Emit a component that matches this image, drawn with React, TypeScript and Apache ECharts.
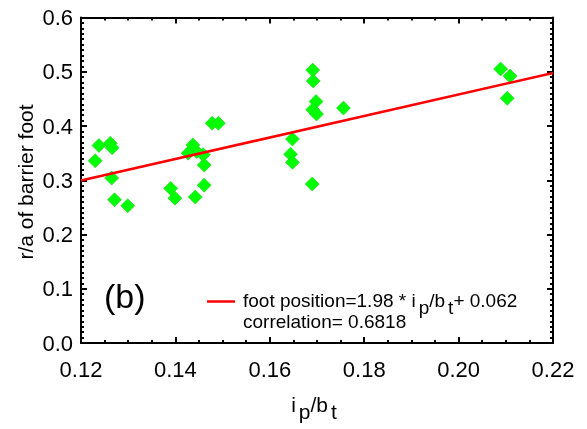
import { useEffect, useRef } from 'react';
import * as echarts from 'echarts';

// i_p / b_t values of the measured points
const ipOverBt = [
  0.1238, 0.1262, 0.1266, 0.1230, 0.1265, 0.1271, 0.1299,
  0.1390, 0.1399, 0.1442, 0.1461, 0.1461, 0.1459, 0.1445, 0.1427, 0.1437, 0.1478, 0.1491,
  0.1648, 0.1644, 0.1648, 0.1690, 0.1691, 0.1692, 0.1698, 0.1691, 0.1699, 0.1756,
  0.2089, 0.2109, 0.2103,
];
// r/a of barrier foot for each point
const footPosition = [
  0.364, 0.368, 0.360, 0.336, 0.304, 0.264, 0.253,
  0.285, 0.267, 0.269, 0.291, 0.328, 0.347, 0.353, 0.350, 0.365, 0.405, 0.405,
  0.376, 0.348, 0.333, 0.293, 0.503, 0.483, 0.445, 0.430, 0.422, 0.433,
  0.505, 0.492, 0.451,
];
// linear fit shown in the legend
const fitSlope = 1.98;
const fitIntercept = 0.062;
const fitX = [0.12, 0.22];
const legendText = '{n|foot position=1.98 * i}{s|p}{n|/b}{s|t}{n|+ 0.062}';
const correlationText = 'correlation= 0.6818';
const panelLabel = '(b)';
const xTitle = '{n|i}{s|p}{n|/b}{s|t}';
const yTitle = 'r/a of barrier foot';

const FONT = '"Liberation Sans", Arial, Helvetica, sans-serif';
const GRID = { left: 81, right: 34, top: 17.5, bottom: 86 };

const mkLine = () => ({ show: true, onZero: false, lineStyle: { color: '#000', width: 2 } });
const mkTick = () => ({ show: true, inside: true, length: 6, lineStyle: { color: '#000', width: 2 } });
const mkMinor = (n: number) => ({ show: true, splitNumber: n, length: 3, lineStyle: { color: '#000', width: 2 } });

export default function App() {
  const ref = useRef<HTMLDivElement>(null);
  const overlayRef = useRef<HTMLDivElement>(null);
  useEffect(() => {
    // layer 1: frame, ticks and data marks
    const chart = echarts.init(ref.current!, null, { renderer: 'svg' });
    chart.setOption({
      animation: false,
      grid: { ...GRID, outerBoundsMode: 'none' },
      xAxis: [
        {
          type: 'value', min: 0.12, max: 0.22, interval: 0.02,
          axisLine: mkLine(), axisTick: mkTick(), minorTick: mkMinor(4), splitLine: { show: false },
          axisLabel: { show: false },
        },
        {
          type: 'value', min: 0.12, max: 0.22, interval: 0.02, position: 'top',
          axisLine: mkLine(), axisTick: mkTick(), minorTick: mkMinor(4), splitLine: { show: false },
          axisLabel: { show: false },
        },
      ],
      yAxis: [
        {
          type: 'value', min: 0, max: 0.6, interval: 0.1,
          axisLine: mkLine(), axisTick: mkTick(), minorTick: mkMinor(10), splitLine: { show: false },
          axisLabel: { show: false },
        },
        {
          type: 'value', min: 0, max: 0.6, interval: 0.1, position: 'right',
          axisLine: mkLine(), axisTick: mkTick(), minorTick: mkMinor(10), splitLine: { show: false },
          axisLabel: { show: false },
        },
      ],
      series: [
        {
          name: 'fit', type: 'line', symbol: 'none',
          lineStyle: { color: '#ff0000', width: 2.5 }, itemStyle: { color: '#ff0000' },
          data: fitX.map((x) => [x, fitSlope * x + fitIntercept]),
        },
        {
          name: 'points', type: 'scatter', symbol: 'diamond', symbolSize: 14,
          itemStyle: { color: '#00ff00', borderColor: '#1fcf1f', borderWidth: 0.6, opacity: 1 },
          data: ipOverBt.map((x, i) => [x, footPosition[i]]),
        },
      ],
    });

    // layer 2: tick labels, titles, legend and panel label
    const overlay = echarts.init(overlayRef.current!, null, { renderer: 'svg' });
    const n = { fontSize: 21, fontFamily: FONT, fill: '#000', color: '#000' };
    const s = { fontSize: 21, fontFamily: FONT, fill: '#000', color: '#000', padding: [14, 0, 0, 3] };
    const ln = { fontSize: 19, fontFamily: FONT, fill: '#000', color: '#000' };
    const ls = { fontSize: 19, fontFamily: FONT, fill: '#000', color: '#000', padding: [14, 0, 0, 3] };
    overlay.setOption({
      animation: false,
      grid: { ...GRID },
      xAxis: {
        type: 'value', min: 0.12, max: 0.22, interval: 0.02,
        axisLine: { show: false }, axisTick: { show: false }, splitLine: { show: false },
        axisLabel: { formatter: (v: number) => v.toFixed(2), fontSize: 22, color: '#000', fontFamily: FONT, margin: 15 },
      },
      yAxis: {
        type: 'value', min: 0, max: 0.6, interval: 0.1,
        axisLine: { show: false }, axisTick: { show: false }, splitLine: { show: false },
        axisLabel: { formatter: (v: number) => v.toFixed(1), fontSize: 22, color: '#000', fontFamily: FONT, margin: 8 },
      },
      graphic: [
        {
          type: 'text', x: 25, y: 182, rotation: Math.PI / 2,
          style: { text: yTitle, font: `21px ${FONT}`, fill: '#000', align: 'center', verticalAlign: 'middle' },
        },
        {
          type: 'text', x: 314, y: 404,
          style: { text: xTitle, fill: '#000', align: 'center', verticalAlign: 'middle', rich: { n, s } },
        },
        {
          type: 'line', shape: { x1: 207, y1: 301.5, x2: 235, y2: 301.5 },
          style: { stroke: '#ff0000', lineWidth: 2.5 },
        },
        {
          type: 'text', x: 243, y: 300,
          style: { text: legendText, fill: '#000', align: 'left', verticalAlign: 'middle', rich: { n: ln, s: ls } },
        },
        {
          type: 'text', x: 243, y: 321,
          style: { text: correlationText, font: `19px ${FONT}`, fill: '#000', align: 'left', verticalAlign: 'middle' },
        },
        {
          type: 'text', x: 104, y: 279,
          style: { text: panelLabel, font: `34px ${FONT}`, fill: '#000', align: 'left', verticalAlign: 'top' },
        },
      ],
    });
    return () => {
      overlay.dispose();
      chart.dispose();
    };
  }, []);
  return (
    <div style={{ position: 'fixed', left: 0, top: 0, width: 587, height: 429 }}>
      <div ref={ref} style={{ position: 'absolute', left: 0, top: 0, width: 587, height: 429 }} />
      <div ref={overlayRef} style={{ position: 'absolute', left: 0, top: 0, width: 587, height: 429, pointerEvents: 'none' }} />
    </div>
  );
}
